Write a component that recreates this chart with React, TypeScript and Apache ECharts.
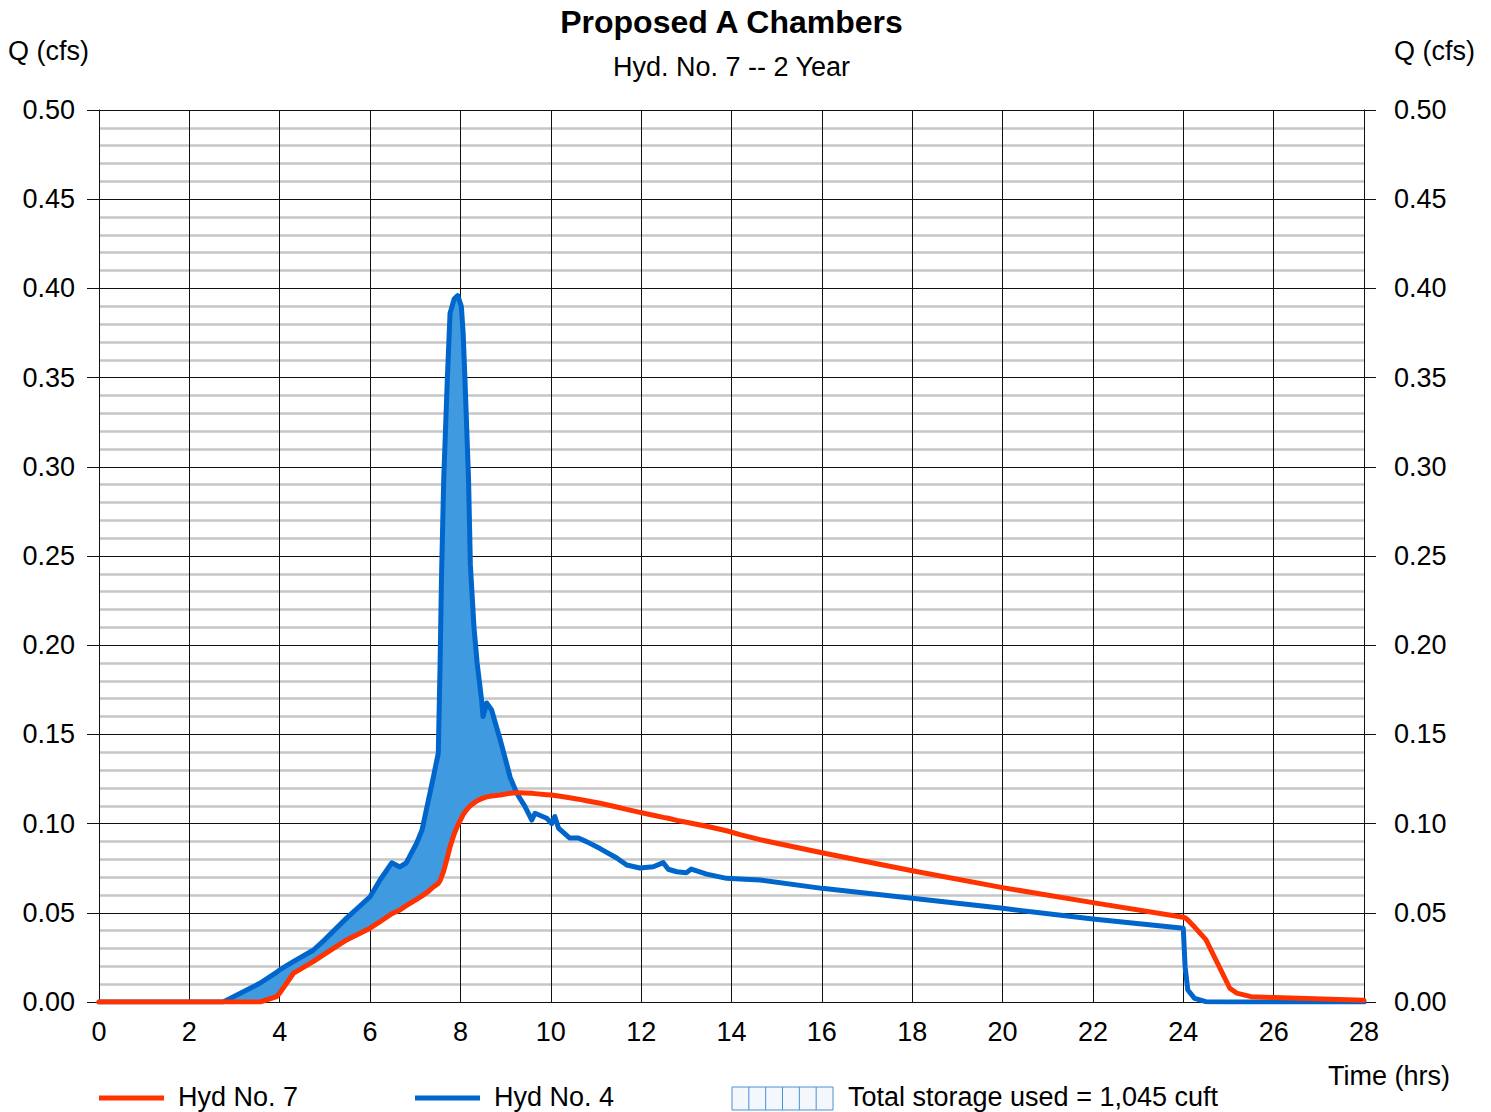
import React, { useEffect, useRef } from "react";
import * as echarts from "echarts";

// Hydrograph time steps (hrs) shared by both hydrographs
const TIME = [
  0, 2.75, 3.56, 3.93, 4.0, 4.3, 4.74, 5.0, 5.48, 6.0, 6.22, 6.48, 6.66, 6.8,
  7.03, 7.15, 7.29, 7.4, 7.51, 7.55, 7.58, 7.63, 7.71, 7.77, 7.86, 7.94, 8.02,
  8.06, 8.1, 8.18, 8.22, 8.3, 8.37, 8.47, 8.5, 8.58, 8.69, 8.88, 9.06, 9.1,
  9.24, 9.32, 9.43, 9.58, 9.65, 9.91, 10.02, 10.09, 10.17, 10.42, 10.61, 10.79,
  11.09, 11.46, 11.68, 11.97, 12.27, 12.49, 12.6, 12.79, 13.0, 13.11, 13.45,
  13.89, 14.19, 14.63, 16, 18, 20, 22, 24, 24.04, 24.1, 24.25, 24.5, 25.03,
  25.18, 25.5, 26, 28,
];

// Hyd No. 4 — inflow to the chambers (cfs)
const HYD4 = [
  0, 0, 0.0105, 0.0166, 0.018, 0.0226, 0.029, 0.035, 0.047, 0.059, 0.0684,
  0.078, 0.0757, 0.078, 0.089, 0.0964, 0.113, 0.126, 0.1395, 0.19, 0.237,
  0.293, 0.349, 0.386, 0.394, 0.396, 0.39, 0.375, 0.349, 0.293, 0.245, 0.21,
  0.19, 0.169, 0.16, 0.1676, 0.1637, 0.147, 0.13, 0.126, 0.1175, 0.114,
  0.1095, 0.102, 0.1058, 0.103, 0.1, 0.1039, 0.0975, 0.0919, 0.0919, 0.0899,
  0.086, 0.0807, 0.0768, 0.0751, 0.0758, 0.0781, 0.0744, 0.073, 0.0725,
  0.0745, 0.0717, 0.0693, 0.069, 0.0684, 0.0637, 0.0581, 0.0525, 0.0465,
  0.0413, 0.0198, 0.0067, 0.002, 0.0002, 0, 0, 0, 0, 0,
];

// Hyd No. 7 — routed outflow (cfs)
const HYD7 = [
  0, 0, 0, 0.003, 0.005, 0.016, 0.0226, 0.027, 0.0348, 0.0414, 0.045, 0.0495,
  0.0516, 0.054, 0.0575, 0.0595, 0.062, 0.0645, 0.0665, 0.068, 0.07, 0.0735,
  0.081, 0.087, 0.094, 0.099, 0.103, 0.105, 0.1065, 0.109, 0.11, 0.1115,
  0.1128, 0.114, 0.1143, 0.115, 0.1155, 0.116, 0.1168, 0.117, 0.1173, 0.1173,
  0.1172, 0.117, 0.1168, 0.1162, 0.116, 0.1158, 0.1155, 0.1145, 0.1137,
  0.1128, 0.1114, 0.1093, 0.108, 0.1063, 0.1047, 0.1035, 0.103, 0.1018,
  0.1008, 0.1002, 0.0985, 0.096, 0.0938, 0.091, 0.0837, 0.0736, 0.0641,
  0.0557, 0.0475, 0.0472, 0.046, 0.042, 0.035, 0.0077, 0.005, 0.003, 0.0025,
  0.001,
];

const TITLE = "Proposed A Chambers";
const SUBTITLE = "Hyd. No. 7 -- 2 Year";
const Y_NAME = "Q (cfs)";
const X_NAME = "Time (hrs)";
const LEGEND_7 = "Hyd No. 7";
const LEGEND_4 = "Hyd No. 4";
const STORAGE_LABEL = "Total storage used = 1,045 cuft";

const FONT = '"Liberation Sans", Arial, Helvetica, sans-serif';
const FS = 27;
const RED = "#ff3300";
const BLUE = "#0066cc";
const FILL = "#3f9ae0";

export default function App() {
  const ref = useRef<HTMLDivElement>(null);

  useEffect(() => {
    document.body.style.margin = "0";
    if (!ref.current) return;
    const chart = echarts.init(ref.current, null, { renderer: "svg" });

    const gridLeft = 99;
    const gridRight = 1364;
    const gridTop = 110;
    const gridBottom = 1002;
    const plotCenter = (gridLeft + gridRight) / 2;

    // storage legend swatch: hatched box
    const swX = 732;
    const swY = 1087;
    const swW = 101;
    const swH = 23;
    const cells = 6;
    const hatch: any[] = [];
    for (let i = 1; i < cells; i++) {
      const x = swX + (swW * i) / cells;
      hatch.push({
        type: "line",
        shape: { x1: x, y1: swY, x2: x, y2: swY + swH },
        style: { stroke: "#4a90d9", lineWidth: 1 },
      });
    }

    const textStyle = (extra: any) => ({
      fill: "#000",
      fontFamily: FONT,
      fontSize: FS,
      ...extra,
    });

    const option: any = {
      animation: false,
      backgroundColor: "#fff",
      grid: {
        left: gridLeft,
        right: 1491 - gridRight,
        top: gridTop,
        bottom: 1112 - gridBottom,
        containLabel: false,
      },
      xAxis: {
        type: "value",
        min: 0,
        max: 28,
        interval: 2,
        axisLine: { show: true, lineStyle: { color: "#111", width: 1 } },
        axisTick: { show: false },
        axisLabel: {
          color: "#000",
          fontFamily: FONT,
          fontSize: FS,
          margin: 16,
        },
        splitLine: { show: true, lineStyle: { color: "#111", width: 1 } },
      },
      yAxis: [
        {
          type: "value",
          position: "left",
          min: 0,
          max: 0.5,
          interval: 0.05,
          axisLine: { show: true, lineStyle: { color: "#111", width: 1 } },
          axisTick: { show: true, length: 12, lineStyle: { color: "#111", width: 1 } },
          axisLabel: {
            color: "#000",
            fontFamily: FONT,
            fontSize: FS,
            margin: 24,
            formatter: (v: number) => v.toFixed(2),
          },
          splitLine: { show: true, lineStyle: { color: "#111", width: 1 } },
          minorTick: { show: false, splitNumber: 5 },
          minorSplitLine: { show: true, lineStyle: { color: "#c6c6c6", width: 2.5 } },
        },
        {
          type: "value",
          position: "right",
          min: 0,
          max: 0.5,
          interval: 0.05,
          axisLine: { show: true, lineStyle: { color: "#111", width: 1 } },
          axisTick: { show: true, length: 12, lineStyle: { color: "#111", width: 1 } },
          axisLabel: {
            color: "#000",
            fontFamily: FONT,
            fontSize: FS,
            margin: 30,
            formatter: (v: number) => v.toFixed(2),
          },
          splitLine: { show: false },
        },
      ],
      series: [
        {
          // storage volume: region where inflow exceeds outflow
          name: "storage",
          type: "custom",
          silent: true,
          clip: true,
          z: 2,
          data: [[0, 0]],
          renderItem: (_params: any, api: any) => {
            const top = TIME.map((t, i) => api.coord([t, Math.max(HYD4[i], HYD7[i])]));
            const bottom = TIME.map((t, i) => api.coord([t, HYD7[i]])).reverse();
            return {
              type: "polygon",
              shape: { points: top.concat(bottom) },
              style: { fill: FILL, stroke: "none" },
            };
          },
        },
        {
          name: LEGEND_4,
          type: "line",
          data: TIME.map((t, i) => [t, HYD4[i]]),
          showSymbol: false,
          symbol: "none",
          lineStyle: { color: BLUE, width: 5, join: "round", cap: "round" },
          z: 3,
        },
        {
          name: LEGEND_7,
          type: "line",
          data: TIME.map((t, i) => [t, HYD7[i]]),
          showSymbol: false,
          symbol: "none",
          lineStyle: { color: RED, width: 5, join: "round", cap: "round" },
          z: 4,
        },
      ],
      graphic: [
        {
          type: "text",
          x: plotCenter,
          y: 22,
          style: textStyle({
            text: TITLE,
            fontSize: 32,
            fontWeight: "bold",
            textAlign: "center",
            textVerticalAlign: "middle",
          }),
        },
        {
          type: "text",
          x: plotCenter,
          y: 67,
          style: textStyle({
            text: SUBTITLE,
            textAlign: "center",
            textVerticalAlign: "middle",
          }),
        },
        {
          type: "text",
          x: 8,
          y: 51,
          style: textStyle({ text: Y_NAME, textAlign: "left", textVerticalAlign: "middle" }),
        },
        {
          type: "text",
          x: 1475,
          y: 51,
          style: textStyle({ text: Y_NAME, textAlign: "right", textVerticalAlign: "middle" }),
        },
        {
          type: "text",
          x: 1450,
          y: 1076,
          style: textStyle({ text: X_NAME, textAlign: "right", textVerticalAlign: "middle" }),
        },
        {
          type: "line",
          shape: { x1: 99, y1: 1098, x2: 164, y2: 1098 },
          style: { stroke: RED, lineWidth: 5 },
        },
        {
          type: "text",
          x: 178,
          y: 1097,
          style: textStyle({ text: LEGEND_7, textAlign: "left", textVerticalAlign: "middle" }),
        },
        {
          type: "line",
          shape: { x1: 415, y1: 1098, x2: 480, y2: 1098 },
          style: { stroke: BLUE, lineWidth: 5 },
        },
        {
          type: "text",
          x: 494,
          y: 1097,
          style: textStyle({ text: LEGEND_4, textAlign: "left", textVerticalAlign: "middle" }),
        },
        {
          type: "rect",
          shape: { x: swX, y: swY, width: swW, height: swH },
          style: { fill: "#f4f8fd", stroke: "#4a90d9", lineWidth: 1 },
        },
        ...hatch,
        {
          type: "text",
          x: 848,
          y: 1097,
          style: textStyle({ text: STORAGE_LABEL, textAlign: "left", textVerticalAlign: "middle" }),
        },
      ],
    };

    chart.setOption(option);
    return () => chart.dispose();
  }, []);

  return <div ref={ref} style={{ width: 1491, height: 1112 }} />;
}
